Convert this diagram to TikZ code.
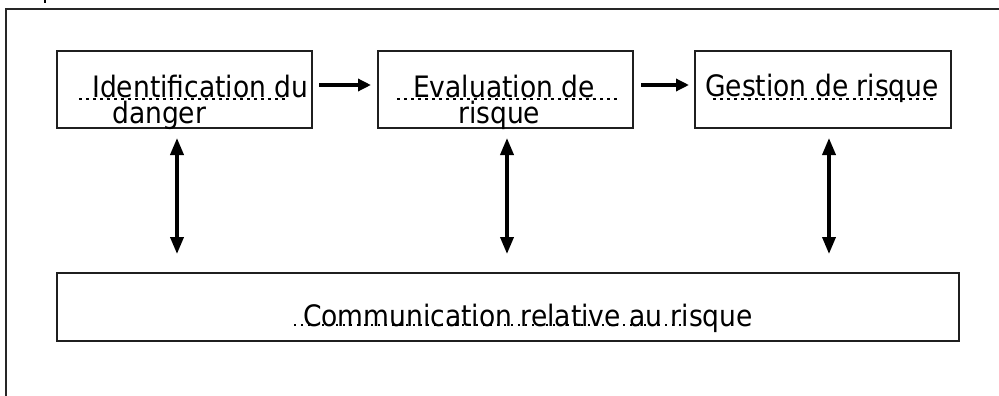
\documentclass[tikz,border=0pt]{standalone}
\usepackage{fontspec}
\setmainfont{DejaVu Sans Condensed}
\usetikzlibrary{arrows.meta}

\begin{document}
\begin{tikzpicture}[x=1pt,y=-1pt,
		box/.style={rectangle,draw=black!88,line width=2pt,inner sep=0pt,minimum height=77pt},
		txt/.style={anchor=base west,inner sep=0pt,font=\fontsize{29.5}{30}\selectfont},
		harrow/.style={-{Triangle[length=13pt,width=12pt]},line width=3.6pt},
		varrow/.style={{Triangle[length=17pt,width=13pt]}-{Triangle[length=17pt,width=13pt]},line width=3.6pt},
		spell/.style={line width=2.6pt,dash pattern=on 2.6pt off 4.4pt},
		frame/.style={line width=1.4pt,draw=black!85}]
		\useasboundingbox (0,0) rectangle (999,396);
		
		% outer frame
		\draw[frame] (999,9) -- (6,9) -- (6,396);
		\draw[line width=1.6pt] (45,0) -- (45,3.5);
		
		\node[box,minimum width=255pt] (idf)  at (184.5,89.5) {};
		\node[box,minimum width=255pt] (eval) at (505.5,89.5) {};
		\node[box,minimum width=256pt] (gest) at (823,89.5)   {};
		\node[box,minimum width=902pt,minimum height=68pt] (com) at (508,307) {};
		
		\node[txt] (idf1)  at (92,97)   {Identification du};
		\node[txt] (idf2)  at (112,123) {danger};
		\node[txt] (eval1) at (413,97)  {Evaluation de};
		\node[txt] (eval2) at (458,123) {risque};
		\node[txt] (gest1) at (705,96)  {Gestion de risque};
		\node[txt] (com1)  at (303,326) {Communication relative au risque};
		
		% dotted underlines
		\draw[spell] (79,99) -- (285,99);
		\draw[spell] (397,99) -- (618,99);
		\draw[spell] (713,99) -- (934,99);
		\draw[spell,line width=2pt,dash pattern=on 2pt off 5pt] (294,325) -- (682,325);
		
		\draw[harrow,shorten <=6pt,shorten >=6pt] ([yshift=4.5pt]idf.east) -- ([yshift=4.5pt]eval.west);
		\draw[harrow,shorten <=7pt,shorten >=5pt] ([yshift=4.5pt]eval.east) -- ([yshift=4.5pt]gest.west);
		
		\draw[varrow,shorten <=9pt,shorten >=18pt] ([xshift=-7.5pt]idf.south) -- ([xshift=-7.5pt]idf.south |- com.north);
		\draw[varrow,shorten <=9pt,shorten >=18pt] ([xshift=1.5pt]eval.south) -- ([xshift=1.5pt]eval.south |- com.north);
		\draw[varrow,shorten <=9pt,shorten >=18pt] ([xshift=6pt]gest.south) -- ([xshift=6pt]gest.south |- com.north);
\end{tikzpicture}
\end{document}
